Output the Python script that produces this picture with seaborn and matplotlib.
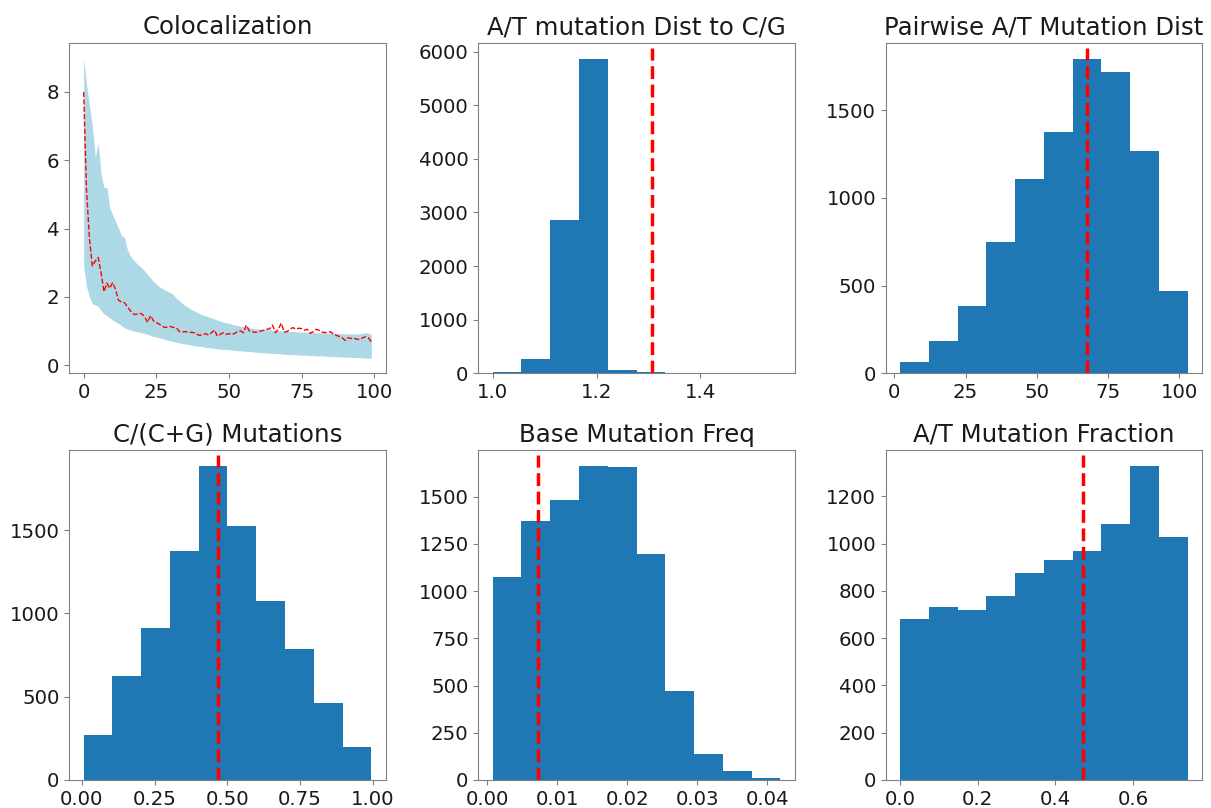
import numpy as np
import seaborn as sns
import matplotlib.pyplot as plt
from matplotlib.ticker import MultipleLocator

# colocalization curve (x = 0..99)
coloc_x = list(range(100))
coloc_mean = [8.0, 5.1, 3.7, 2.9, 3.05, 3.15, 2.7, 2.15, 2.4, 2.25,
              2.42, 2.2, 1.9, 1.85, 1.83, 1.72, 1.6, 1.5, 1.48, 1.52,
              1.5, 1.42, 1.25, 1.45, 1.3, 1.25, 1.2, 1.14, 1.1, 1.12,
              1.13, 1.1, 1.08, 0.98, 0.97, 0.98, 0.97, 0.96, 0.95, 0.9,
              0.87, 0.9, 0.92, 0.88, 0.95, 1.03, 0.85, 0.9, 0.95, 0.9,
              0.92, 0.9, 0.93, 0.98, 1.0, 0.95, 1.17, 1.0, 0.98, 0.96,
              0.97, 1.0, 1.02, 1.05, 1.06, 1.17, 0.95, 1.05, 1.23, 0.97,
              0.98, 1.05, 1.1, 1.05, 1.08, 1.07, 1.02, 1.05, 0.93, 0.98,
              1.05, 1.02, 0.97, 0.95, 0.96, 0.98, 0.9, 0.87, 0.84, 0.8,
              0.72, 0.8, 0.78, 0.79, 0.76, 0.75, 0.8, 0.83, 0.8, 0.68]
coloc_upper = [9.0, 8.2, 7.6, 7.0, 6.1, 6.5, 5.6, 5.2, 5.2, 4.6,
               4.4, 4.2, 4.0, 3.8, 3.75, 3.4, 3.2, 3.1, 3.0, 2.92,
               2.85, 2.75, 2.65, 2.55, 2.45, 2.38, 2.3, 2.25, 2.2, 2.15,
               2.12, 2.05, 1.95, 1.88, 1.8, 1.74, 1.68, 1.63, 1.59, 1.55,
               1.5, 1.47, 1.44, 1.41, 1.38, 1.35, 1.32, 1.29, 1.26, 1.24,
               1.22, 1.2, 1.18, 1.16, 1.14, 1.12, 1.11, 1.1, 1.08, 1.07,
               1.06, 1.05, 1.05, 1.04, 1.03, 1.02, 1.01, 1.01, 1.0, 1.0,
               0.99, 0.99, 0.98, 0.98, 0.97, 0.97, 0.97, 0.96, 0.96, 0.96,
               0.95, 0.95, 0.95, 0.94, 0.94, 0.94, 0.93, 0.93, 0.93, 0.92,
               0.92, 0.92, 0.91, 0.91, 0.91, 0.92, 0.93, 0.95, 0.94, 0.9]
coloc_lower = [2.9, 2.3, 2.0, 1.8, 1.76, 1.72, 1.6, 1.5, 1.45, 1.38,
               1.32, 1.26, 1.22, 1.16, 1.1, 1.06, 1.03, 1.0, 0.98, 0.97,
               0.95, 0.93, 0.9, 0.87, 0.84, 0.82, 0.8, 0.78, 0.75, 0.73,
               0.71, 0.69, 0.67, 0.65, 0.63, 0.62, 0.6, 0.59, 0.57, 0.56,
               0.55, 0.54, 0.52, 0.51, 0.5, 0.49, 0.48, 0.47, 0.46, 0.46,
               0.45, 0.44, 0.43, 0.42, 0.42, 0.41, 0.4, 0.4, 0.39, 0.38,
               0.37, 0.37, 0.36, 0.36, 0.35, 0.34, 0.34, 0.33, 0.33, 0.32,
               0.31, 0.31, 0.31, 0.3, 0.3, 0.29, 0.29, 0.29, 0.28, 0.28,
               0.27, 0.27, 0.27, 0.26, 0.26, 0.25, 0.25, 0.25, 0.24, 0.24,
               0.23, 0.23, 0.23, 0.22, 0.22, 0.22, 0.21, 0.21, 0.2, 0.2]

# histograms: bin range, counts for 10 bins, observed value
at_dist_range = (1.0, 1.554)
at_dist_counts = [20, 260, 2850, 5870, 70, 25, 0, 0, 0, 2]
at_dist_obs = 1.307

pair_range = (2.0, 103.0)
pair_counts = [63, 182, 382, 746, 1109, 1373, 1794, 1720, 1266, 467]
pair_obs = 67.5

cg_range = (0.006, 0.995)
cg_counts = [269, 624, 914, 1373, 1885, 1522, 1073, 788, 463, 195]
cg_obs = 0.467

freq_range = (0.0008, 0.0419)
freq_counts = [1074, 1373, 1484, 1662, 1656, 1196, 469, 135, 47, 12]
freq_obs = 0.00724

atfrac_range = (0.0, 0.741)
atfrac_counts = [682, 732, 718, 777, 875, 933, 968, 1085, 1329, 1030]
atfrac_obs = 0.471

sns.set_style("ticks")
plt.rcParams['font.family'] = ['DejaVu Sans']

fig = plt.figure(figsize=(12.11, 8.08), dpi=100)
lefts = [0.0572, 0.395, 0.7314]
w = 0.2613
axes = [fig.add_axes([l, 0.538, w, 0.409]) for l in lefts] + \
       [fig.add_axes([l, 0.0347, w, 0.408]) for l in lefts]

# panel 1
ax = axes[0]
ax.fill_between(coloc_x, coloc_lower, coloc_upper, color='lightblue', linewidth=0)
sns.lineplot(x=coloc_x, y=coloc_mean, ax=ax, color='red', linestyle='--', linewidth=1)
ax.set_title("Colocalization", fontsize=17.6)
ax.set_xticks([0, 25, 50, 75, 100])


def hist_panel(ax, rng, counts, obs, title):
    lo, hi = rng
    step = (hi - lo) / len(counts)
    centers = lo + step * (np.arange(len(counts)) + 0.5)
    sns.histplot(x=centers, weights=counts, bins=len(counts), binrange=rng, ax=ax,
                 color='#1f77b4', alpha=1, linewidth=0)
    ax.axvline(obs, color='red', linestyle='--', linewidth=2.5, ymax=0.985)
    ax.set_title(title, fontsize=17.6)
    ax.set_ylabel('')


hist_panel(axes[1], at_dist_range, at_dist_counts, at_dist_obs, "A/T mutation Dist to C/G")
axes[1].set_xticks([1.0, 1.2, 1.4])
hist_panel(axes[2], pair_range, pair_counts, pair_obs, "Pairwise A/T Mutation Dist")
axes[2].set_xticks([0, 25, 50, 75, 100])
axes[2].yaxis.set_major_locator(MultipleLocator(500))
hist_panel(axes[3], cg_range, cg_counts, cg_obs, "C/(C+G) Mutations")
axes[3].set_xticks([0.0, 0.25, 0.5, 0.75, 1.0])
axes[3].set_xticklabels(['0.00', '0.25', '0.50', '0.75', '1.00'])
axes[3].yaxis.set_major_locator(MultipleLocator(500))
hist_panel(axes[4], freq_range, freq_counts, freq_obs, "Base Mutation Freq")
axes[4].set_xticks([0.0, 0.01, 0.02, 0.03, 0.04])
axes[4].set_xticklabels(['0.00', '0.01', '0.02', '0.03', '0.04'])
axes[4].yaxis.set_major_locator(MultipleLocator(250))
hist_panel(axes[5], atfrac_range, atfrac_counts, atfrac_obs, "A/T Mutation Fraction")
axes[5].set_xticks([0.0, 0.2, 0.4, 0.6])

for ax in axes:
    ax.tick_params(labelsize=14.2, color='0.5', labelcolor='0.1')
    for sp in ax.spines.values():
        sp.set_color('0.5')
    ax.title.set_color('0.1')

fig.savefig("out.png", dpi=100)
